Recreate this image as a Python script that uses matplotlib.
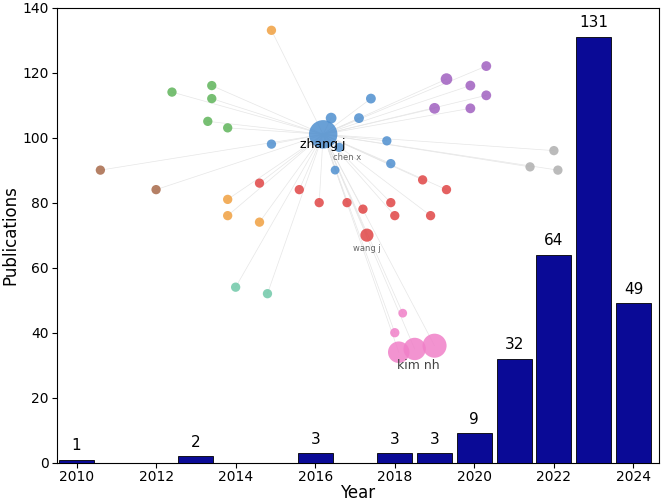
import matplotlib
matplotlib.use("Agg")
import matplotlib.pyplot as plt

years = [2010, 2013, 2016, 2018, 2019, 2020, 2021, 2022, 2023, 2024]
counts = [1, 2, 3, 3, 3, 9, 32, 64, 131, 49]

# decorative co-authorship network (approximate node positions in data coords)
net_x = [2016.4,2017.4,2017.1,2014.9,2017.8,2016.6,2017.9,2016.5,2016.2,
         2012.4,2013.4,2013.4,2013.3,2013.8,
         2019.3,2020.3,2019.9,2020.3,2019.0,2019.9,
         2021.4,2022.0,2022.1,
         2014.6,2015.6,2016.1,2016.8,2017.2,2017.9,2018.0,2018.7,2019.3,2018.9,2017.3,
         2014.9,2013.8,2013.8,2014.6,
         2010.6,2012.0,
         2014.0,2014.8,
         2018.0,2018.5,2019.0,2018.2,2018.1]
net_y = [106,112,106,98,99,97,92,90,101,
         114,116,112,105,103,
         118,122,116,113,109,109,
         91,96,90,
         86,84,80,80,78,80,76,87,84,76,70,
         133,81,76,74,
         90,84,
         54,52,
         40,35,36,46,34]
net_c = (["#4f8fcf"]*9 + ["#5fb45a"]*5 + ["#a060c0"]*6 + ["#b0b0b0"]*3 +
         ["#e04545"]*11 + ["#f0a040"]*4 + ["#a86a4a"]*2 + ["#70c8a8"]*2 +
         ["#f080c8"]*5)
net_s = ([60,50,50,45,45,45,45,40,420] + [45]*5 + [70,50,50,50,60,50] + [45]*3 +
         [45]*10 + [90] + [45]*4 + [45]*2 + [45]*2 + [45,260,300,40,240])

fig, ax = plt.subplots(figsize=(6.66, 5.03), dpi=100)
fig.subplots_adjust(left=0.085, right=0.99, top=0.985, bottom=0.08)

hx, hy = 2016.2, 101
for x, y in zip(net_x, net_y):
    ax.plot([hx, x], [hy, y], color="#e6e6e6", lw=0.5, zorder=1)
ax.scatter(net_x, net_y, s=net_s, c=net_c, alpha=0.85, edgecolors="none", zorder=2)
ax.text(2016.2, 98, "zhang j", fontsize=9, ha="center", va="center", zorder=3)
ax.text(2018.6, 30, "kim nh", fontsize=9, ha="center", va="center", color="#444", zorder=3)
ax.text(2016.8, 93, "chen x", fontsize=6, ha="center", color="#666", zorder=3)
ax.text(2017.3, 65, "wang j", fontsize=6, ha="center", color="#666", zorder=3)

ax.bar(years, counts, width=0.88, color="#0a0a96", edgecolor="black", lw=0.6, zorder=4)
for x, c in zip(years, counts):
    ax.text(x, c + 2, str(c), ha="center", va="bottom", fontsize=11, zorder=5)

ax.set_xlim(2009.5, 2024.65)
ax.set_ylim(0, 140)
ax.set_xticks(range(2010, 2025, 2))
ax.set_yticks(range(0, 141, 20))
ax.set_xlabel("Year", fontsize=12, labelpad=0)
ax.set_ylabel("Publications", fontsize=12, labelpad=2)
ax.tick_params(labelsize=10, pad=2)
fig.savefig("out.png")
